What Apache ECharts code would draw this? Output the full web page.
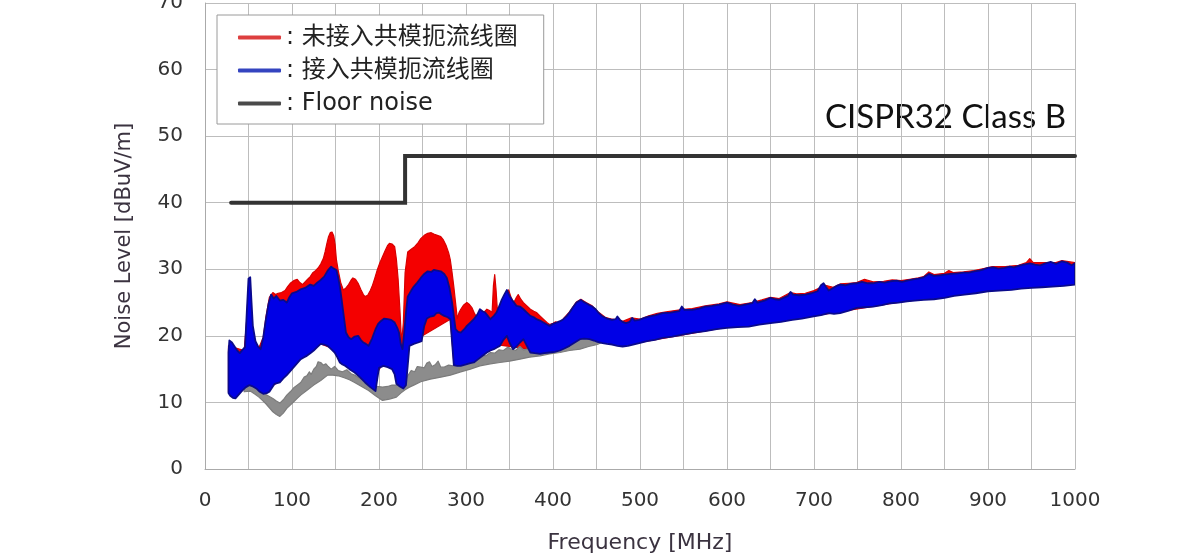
<!DOCTYPE html>
<html>
<head>
<meta charset="utf-8">
<script src="https://cdn.jsdelivr.net/npm/echarts@6/dist/echarts.min.js"></script>
<style>html,body{margin:0;padding:0;background:#fff;}#c{width:1200px;height:560px;}</style>
</head>
<body>
<div id="c"></div>
<script>
// ---- Data (frequency MHz, level dBuV/m) ----
const seriesNames = ['未接入共模扼流线圈', '接入共模扼流线圈', 'Floor noise'];
const limitName = 'CISPR32 Class B';

const limitX = [30, 230, 230, 1000];
const limitY = [40, 40, 47, 47];

const blueUp = [
[27,17.5],[28,19.3],[31,19.0],[34,18.4],[37,17.8],[40,17.4],[43,17.9],[46,18.3],[48,23.5],[50,28.6],[52,28.8],[53.5,25],[55,21.5],[58,19.2],[61,18.4],[64,18.0],[67,19.8],[70,22.5],[73,24.8],[76,26.2],[79,25.6],[82,26.0],[86,25.3],[90,25.4],[94,25.0],[97,25.8],[100,26.4],[105,26.6],[110,27.0],[115,27.2],[121,27.7],[125,27.5],[129,28.0],[133,28.4],[137,28.9],[141,29.8],[145,30.4],[148,30.1],[151,29.9],[153,28.8],[155,27.4],[157,25.5],[159,23.5],[162,20.5],[165,19.8],[168,19.5],[172,19.9],[176,20.0],[179,19.4],[182,19.0],[185,18.8],[188,18.5],[192,19.6],[196,21.0],[199,21.8],[202,22.2],[206,22.6],[210,22.5],[214,22.4],[218,22.0],[221,21.2],[223,20.5],[225,18.8],[227,18.0],[229,20.5],[231,23.5],[233,25.9],[237,26.8],[240,27.4],[244,28.0],[248,28.7],[252,29.3],[256,29.7],[260,29.6],[263,29.9],[267,29.8],[271,29.7],[275,29.3],[278,28.7],[281,27.2],[284,25.0],[286,23.0],[288,21.0],[291,20.6],[294,20.5],[298,21.0],[301,21.5],[305,22.0],[309,22.5],[313,23.2],[316,24.0],[319,23.7],[322,23.5],[325,23.0],[328,22.5],[332,23.0],[335,23.5],[338,24.4],[341,25.4],[344,26.2],[347,26.9],[350,26.0],[353,25.4],[358,24.5],[362,24.4],[366,24.0],[370,23.5],[374,23.0],[378,22.8],[381,22.5],[385,22.3],[389,22.0],[393,21.7],[396,21.5],[400,21.8],[404,22.0],[408,22.2],[412,22.5],[416,23.0],[419,23.5],[423,24.3],[427,25.0],[432,25.4],[435,25.1],[438,24.9],[442,24.6],[445,24.4],[449,24.0],[452,23.5],[457,22.9],[462,22.6],[468,22.4],[472,22.5],[474,22.9],[477,22.4],[480,22.1],[484,21.9],[488,22.1],[491,22.7],[494,22.3],[499,22.4],[505,22.7],[510,22.9],[518,23.1],[526,23.4],[535,23.5],[545,23.7],[548,24.4],[551,23.9],[560,23.9],[568,24.1],[575,24.4],[583,24.5],[591,24.7],[600,25.0],[607,24.7],[614,24.5],[621,24.7],[629,24.9],[632,25.5],[635,25.0],[643,25.3],[650,25.7],[655,25.5],[660,25.4],[665,25.7],[670,26.0],[673,26.6],[676,26.2],[683,26.1],[690,26.2],[697,26.4],[704,26.7],[708,27.6],[711,27.9],[714,27.3],[717,26.8],[721,27.1],[726,27.5],[730,27.7],[736,27.6],[742,27.8],[749,27.9],[755,28.1],[762,27.9],[768,27.9],[775,28.1],[781,28.0],[788,28.2],[795,28.3],[801,28.1],[807,28.3],[814,28.5],[820,28.6],[826,28.8],[832,29.3],[838,29.0],[844,29.1],[850,29.2],[857,29.3],[865,29.4],[872,29.5],[878,29.5],[884,29.7],[890,29.8],[895,30.0],[900,30.2],[906,30.3],[912,30.1],[919,30.2],[925,30.4],[930,30.3],[935,30.5],[941,30.7],[948,30.9],[954,30.7],[960,30.6],[966,30.9],[972,31.1],[978,30.8],[985,31.2],[991,31.0],[996,30.6],[1000,30.9]
];
const blueLo = [
[27,11.4],[29,11.0],[32,10.7],[35,10.6],[39,11.2],[43,11.8],[47,12.3],[51,12.6],[55,12.4],[59,12.1],[63,11.6],[67,11.3],[71,11.4],[74,11.6],[77,12.2],[80,12.8],[83,12.9],[86,13.0],[90,13.6],[94,14.1],[98,14.7],[102,15.3],[106,15.9],[110,16.5],[114,16.8],[117,17.0],[121,17.4],[125,17.8],[129,18.3],[133,18.8],[137,18.7],[141,18.5],[145,18.0],[149,17.5],[152,16.8],[155,16.0],[158,15.7],[161,15.5],[166,15.0],[172,14.5],[178,13.8],[184,13.0],[190,12.3],[196,11.7],[198,13.5],[200,15.2],[205,15.5],[210,15.3],[215,15.0],[218,14.2],[220,12.8],[224,12.4],[228,12.1],[231,12.6],[233,15.5],[235,18.5],[240,18.8],[245,19.0],[249,19.2],[252,21.5],[255,22.6],[259,22.9],[263,23.0],[266,23.4],[269,23.5],[272,23.2],[275,23.0],[279,22.8],[282,22.5],[284,19.0],[286,15.6],[290,15.5],[294,15.5],[300,15.7],[305,15.9],[309,16.0],[314,16.5],[319,17.0],[324,17.5],[328,17.8],[332,18.0],[336,18.3],[339,18.5],[343,19.4],[347,20.0],[350,19.0],[354,18.0],[358,18.4],[362,19.0],[366,19.5],[370,18.5],[374,17.5],[379,17.4],[385,17.3],[390,17.4],[396,17.5],[402,17.6],[408,17.8],[413,18.1],[419,18.5],[425,19.0],[431,19.5],[436,19.6],[442,19.5],[447,19.3],[451,19.1],[457,18.9],[462,18.8],[468,18.7],[474,18.5],[480,18.4],[486,18.5],[492,18.7],[499,18.9],[508,19.2],[517,19.4],[526,19.7],[537,19.9],[549,20.2],[562,20.5],[575,20.7],[588,21.0],[600,21.2],[612,21.3],[625,21.4],[637,21.7],[650,21.9],[662,22.1],[675,22.4],[686,22.6],[698,22.9],[708,23.1],[717,23.4],[723,23.3],[730,23.4],[740,23.8],[749,24.2],[758,24.3],[768,24.4],[778,24.6],[788,24.9],[797,25.0],[807,25.2],[816,25.3],[826,25.4],[838,25.5],[850,25.7],[861,26.0],[873,26.2],[886,26.4],[900,26.7],[913,26.8],[927,26.9],[938,27.1],[950,27.2],[962,27.3],[974,27.4],[987,27.5],[1000,27.7]
];

const redUp = [
[27,18.5],[45,17.8],[48,22.5],[50,27.5],[52,27.8],[54,22],[57,19],[62,18.2],[67,19.8],[70,22.8],[74,25.8],[78,26.5],[81,26.2],[84,26.4],[88,26.5],[92,26.8],[95,27.4],[98,27.9],[102,28.3],[106,28.5],[109,28.0],[112,27.7],[115,28.1],[118,28.5],[121,28.9],[124,29.5],[127,29.8],[130,30.2],[133,30.8],[136,31.6],[138,32.6],[140,33.8],[142,34.9],[144,35.5],[146,35.6],[148,35.0],[149.5,33.8],[151,31.5],[153,29.9],[156,28.0],[159,26.9],[162,27.2],[165,27.7],[168,28.4],[170,28.7],[173,28.5],[176,27.9],[179,27.0],[182,26.2],[184,25.9],[187,26.1],[190,26.8],[192,27.4],[195,28.6],[198,29.9],[201,31.0],[204,31.9],[207,32.8],[210,33.6],[212,33.9],[215,33.8],[218,33.4],[220,31.5],[222,28.5],[224,24.0],[226,19.0],[228,22.0],[230,29.5],[233,32.6],[237,33.0],[241,33.4],[245,34.0],[248,34.6],[252,35.1],[256,35.4],[260,35.5],[263,35.3],[267,35.1],[271,34.9],[274,34.4],[277,33.6],[280,32.5],[282,31.4],[284,29.5],[286,27.4],[288,25.0],[290,22.6],[292,23.5],[294,24.0],[297,24.6],[301,25.0],[304,24.7],[307,24.2],[310,23.3],[313,22.6],[316,22.8],[318,23.0],[321,23.6],[324,24.0],[327,23.8],[330,23.5],[331.5,27.5],[333,29.2],[334.5,27.0],[336,24.0],[340,24.8],[343,25.4],[346,26.3],[349,26.9],[352,25.7],[355,25.0],[358,25.8],[360,26.2],[363,25.5],[366,25.0],[370,24.5],[374,24.0],[378,23.7],[381,23.5],[385,23.0],[389,22.5],[393,22.0],[396,21.7],[400,21.9],[403,22.1],[408,21.9],[412,22.6],[419,23.6],[427,25.1],[432,25.5],[438,25.0],[445,24.5],[452,23.6],[460,22.8],[468,22.5],[480,22.2],[490,22.7],[500,22.5],[510,23.0],[520,23.4],[530,23.6],[540,23.8],[550,24.0],[560,24.1],[575,24.5],[591,24.8],[600,25.1],[615,24.7],[629,25.0],[640,25.4],[650,25.8],[660,25.6],[673,26.5],[680,26.3],[690,26.4],[700,26.8],[713,27.6],[722,27.3],[730,27.8],[740,27.9],[749,28.0],[758,28.5],[768,28.1],[780,28.2],[790,28.4],[800,28.3],[810,28.5],[820,28.7],[826,28.9],[832,29.6],[838,29.2],[850,29.4],[855,29.8],[860,29.5],[872,29.6],[884,29.8],[895,30.1],[905,30.4],[920,30.4],[935,30.6],[944,31.0],[948,31.6],[952,31.0],[966,31.0],[978,31.0],[985,31.3],[1000,31.0]
];
const redLo = [
[27,11.6],[40,11.5],[50,12.6],[66,11.6],[86,13.2],[110,16.6],[133,18.8],[149,18.0],[160,17.2],[172,17.5],[184,17.0],[196,14.0],[205,16.0],[217,15.2],[224,13.0],[231,13.0],[234,18.5],[250,20.0],[282,22.5],[286,16.0],[309,16.5],[339,18.6],[373,18.0],[408,18.0],[451,19.3],[500,19.0],[600,21.3],[700,23.0],[800,25.1],[900,26.8],[1000,27.8]
];

const grayUp = [
[45,12.6],[52,12.8],[58,12.3],[62,11.8],[66,11.6],[70,11.2],[74,10.9],[78,10.6],[82,10.2],[86,9.9],[90,10.4],[94,11.1],[98,11.6],[102,12.2],[106,12.6],[110,13.0],[114,13.8],[117,14.0],[120,14.6],[122,14.2],[125,15.0],[128,15.4],[130,16.1],[133,16.0],[136,15.6],[139,15.8],[141,15.5],[145,15.0],[149,15.4],[153,14.8],[158,14.6],[163,14.9],[168,14.3],[172,14.1],[177,13.7],[182,13.4],[188,12.8],[193,12.5],[198,12.4],[204,12.3],[210,12.4],[215,12.6],[220,12.6],[225,12.7],[229,13.0],[233,14.0],[237,14.8],[241,14.6],[244,15.4],[248,15.3],[252,15.2],[255,15.9],[258,16.1],[261,15.4],[265,15.7],[268,16.2],[271,15.3],[275,15.3],[280,15.6],[285,15.5],[290,15.5],[295,15.9],[300,16.2],[305,16.0],[309,16.5],[313,16.6],[318,17.1],[323,17.0],[328,17.5],[333,17.4],[338,17.9],[343,17.8],[348,18.3],[352,18.0],[357,17.8],[362,18.4],[366,17.9],[371,18.0],[377,17.8],[382,18.0],[387,18.1],[392,18.4],[396,18.3],[401,18.7],[406,18.6],[411,18.9],[415,18.8],[420,19.3],[425,19.6],[431,20.2],[436,20.4],[441,20.3],[446,20.5],[451,20.4],[456,20.2]
];
const grayLo = [
[45,11.6],[52,11.7],[58,11.2],[62,10.8],[66,10.3],[70,9.8],[74,9.2],[78,8.6],[82,8.2],[86,7.9],[90,8.4],[94,9.1],[98,9.6],[102,10.1],[106,10.6],[110,11.1],[118,11.9],[125,12.6],[133,13.3],[141,14.1],[147,14.1],[153,14.0],[160,13.7],[166,13.4],[172,13.0],[180,12.4],[188,11.8],[196,11.0],[204,10.3],[212,10.5],[220,10.8],[225,11.4],[230,11.9],[235,12.3],[240,12.6],[248,13.1],[259,13.5],[271,13.8],[282,14.1],[294,14.6],[305,15.0],[316,15.5],[328,15.8],[339,16.0],[350,16.2],[362,16.5],[373,16.8],[385,17.0],[396,17.3],[408,17.5],[419,17.8],[431,18.0],[441,18.4],[451,18.7],[456,19.0]
];

// ---- Chart ----
const latin = '"DejaVu Sans", "Noto Sans CJK SC", sans-serif';

function band(name, up, lo, fill, stroke, lw) {
  return {
    type: 'custom', name: name, coordinateSystem: 'cartesian2d',
    data: [[up[0][0], up[0][1]]], silent: true, clip: true,
    itemStyle: { color: fill },
    renderItem: function (params, api) {
      const pts = up.map(p => api.coord(p)).concat(lo.slice().reverse().map(p => api.coord(p)));
      return { type: 'polygon', shape: { points: pts },
        style: { fill: fill, stroke: stroke, lineWidth: lw, lineJoin: 'round' } };
    }
  };
}

const chart = echarts.init(document.getElementById('c'), null, { renderer: 'canvas' });
chart.setOption({
  animation: false,
  backgroundColor: '#ffffff',
  grid: { left: 205, right: 125, top: 3, bottom: 91, containLabel: false, outerBoundsMode: 'none' },
  xAxis: {
    type: 'value', min: 0, max: 1000, interval: 50,
    name: 'Frequency [MHz]', nameLocation: 'middle', nameGap: 63,
    nameTextStyle: { fontFamily: latin, fontSize: 22, color: '#3b3340' },
    axisLine: { show: true, lineStyle: { color: '#aaaaaa', width: 1 } },
    axisTick: { show: false },
    axisLabel: { margin: 22, fontFamily: latin, fontSize: 20, color: '#333333',
      formatter: v => (v % 100 === 0 ? String(v) : '') },
    splitLine: { show: true, lineStyle: { color: '#bdbdbd', width: 1 } }
  },
  yAxis: {
    type: 'value', min: 0, max: 70, interval: 10,
    name: 'Noise Level [dBuV/m]', nameLocation: 'middle', nameGap: 70, nameRotate: 90,
    nameTextStyle: { fontFamily: latin, fontSize: 21, color: '#3b3340' },
    axisLine: { show: true, lineStyle: { color: '#aaaaaa', width: 1 } },
    axisTick: { show: false },
    axisLabel: { margin: 22, fontFamily: latin, fontSize: 20, color: '#333333' },
    splitLine: { show: true, lineStyle: { color: '#bdbdbd', width: 1 } }
  },
  legend: {
    orient: 'vertical', left: 217, top: 15,
    itemWidth: 43, itemHeight: 4, itemGap: 8,
    padding: [10, 26, 8, 21],
    backgroundColor: '#ffffff', borderColor: '#9a9a9a', borderWidth: 1,
    selectedMode: false,
    textStyle: { fontFamily: latin, fontSize: 24, color: '#222222', lineHeight: 25 },
    formatter: n => ': ' + n,
    data: [
      { name: seriesNames[0], icon: 'roundRect', itemStyle: { color: '#dd3f3f' } },
      { name: seriesNames[1], icon: 'roundRect', itemStyle: { color: '#3444c0' } },
      { name: seriesNames[2], icon: 'roundRect', itemStyle: { color: '#4a4a4a' } }
    ]
  },
  graphic: [{
    type: 'text', left: 825, top: 101, silent: true,
    style: { text: limitName, fontFamily: 'Lato, "Open Sans", sans-serif', fontSize: 33, fill: '#111111' }
  }],
  series: [
    band(seriesNames[0], redUp, redLo, '#f40000', '#d80000', 1.2),
    band(seriesNames[2], grayUp, grayLo, '#8c8c8c', '#7c7c7c', 1.2),
    band(seriesNames[1], blueUp, blueLo, '#0000e6', '#0a0a8c', 1.8),
    {
      type: 'line', name: limitName, silent: true, symbol: 'none',
      data: limitX.map((x, i) => [x, limitY[i]]),
      lineStyle: { color: '#333333', width: 4, cap: 'round', join: 'miter' },
      z: 5
    }
  ]
});
</script>
</body>
</html>
